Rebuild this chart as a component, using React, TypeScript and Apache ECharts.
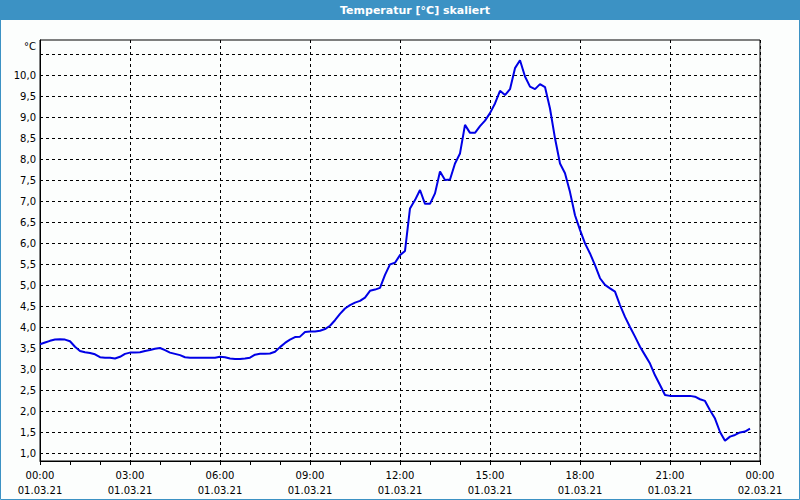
import React, { useEffect, useRef } from 'react';
import * as echarts from 'echarts';

const TITLE = 'Temperatur [°C] skaliert';
const UNIT = '°C';
const DATE_START = '01.03.21';
const DATE_END = '02.03.21';

// Sampling: one reading every 10 minutes from 00:00, 01.03.21
const SAMPLE_MINUTES = 10;

// Temperatures (°C), one row per hour, six 10-minute readings per row
const TEMP_00 = [3.60, 3.64, 3.68, 3.71, 3.72, 3.71];
const TEMP_01 = [3.67, 3.54, 3.44, 3.41, 3.39, 3.36];
const TEMP_02 = [3.29, 3.28, 3.28, 3.26, 3.30, 3.37];
const TEMP_03 = [3.40, 3.40, 3.41, 3.44, 3.46, 3.49];
const TEMP_04 = [3.51, 3.46, 3.40, 3.37, 3.34, 3.29];
const TEMP_05 = [3.28, 3.28, 3.28, 3.28, 3.28, 3.28];
const TEMP_06 = [3.30, 3.29, 3.26, 3.25, 3.25, 3.26];
const TEMP_07 = [3.28, 3.35, 3.37, 3.37, 3.38, 3.42];
const TEMP_08 = [3.53, 3.63, 3.71, 3.77, 3.78, 3.89];
const TEMP_09 = [3.90, 3.90, 3.92, 3.96, 4.04, 4.17];
const TEMP_10 = [4.32, 4.45, 4.53, 4.59, 4.63, 4.71];
const TEMP_11 = [4.87, 4.90, 4.94, 5.25, 5.50, 5.54];
const TEMP_12 = [5.72, 5.82, 6.83, 7.03, 7.27, 6.94];
const TEMP_13 = [6.94, 7.19, 7.71, 7.51, 7.52, 7.90];
const TEMP_14 = [8.14, 8.82, 8.63, 8.63, 8.79, 8.92];
const TEMP_15 = [9.10, 9.33, 9.63, 9.53, 9.67, 10.17];
const TEMP_16 = [10.36, 9.97, 9.73, 9.67, 9.79, 9.72];
const TEMP_17 = [9.21, 8.50, 7.90, 7.67, 7.22, 6.67];
const TEMP_18 = [6.32, 6.00, 5.76, 5.48, 5.17, 5.01];
const TEMP_19 = [4.93, 4.85, 4.53, 4.25, 4.01, 3.78];
const TEMP_20 = [3.54, 3.34, 3.14, 2.86, 2.63, 2.39];
const TEMP_21 = [2.37, 2.37, 2.37, 2.37, 2.37, 2.35];
const TEMP_22 = [2.29, 2.25, 2.03, 1.83, 1.51, 1.30];
const TEMP_23 = [1.40, 1.44, 1.50, 1.52, 1.59];

const TEMPERATURES = [
  ...TEMP_00, ...TEMP_01, ...TEMP_02, ...TEMP_03, ...TEMP_04, ...TEMP_05,
  ...TEMP_06, ...TEMP_07, ...TEMP_08, ...TEMP_09, ...TEMP_10, ...TEMP_11,
  ...TEMP_12, ...TEMP_13, ...TEMP_14, ...TEMP_15, ...TEMP_16, ...TEMP_17,
  ...TEMP_18, ...TEMP_19, ...TEMP_20, ...TEMP_21, ...TEMP_22, ...TEMP_23,
];

// Axis ticks
const X_MIN_HOURS = 0;
const X_MAX_HOURS = 24;
const X_LABEL_STEP_HOURS = 3;
const Y_MIN = 0.82;
const Y_MAX = 10.84;
const Y_GRID_VALUES = [1.0, 1.5, 2.0, 2.5, 3.0, 3.5, 4.0, 4.5, 5.0, 5.5, 6.0, 6.5, 7.0, 7.5, 8.0, 8.5, 9.0, 9.5, 10.0, 10.5];
const Y_LABEL_VALUES = [1.0, 1.5, 2.0, 2.5, 3.0, 3.5, 4.0, 4.5, 5.0, 5.5, 6.0, 6.5, 7.0, 7.5, 8.0, 8.5, 9.0, 9.5, 10.0];

const FONT = '"DejaVu Sans", Tahoma, sans-serif';

function pad(n: number) {
  return n < 10 ? '0' + n : '' + n;
}

function xLabel(v: number) {
  const h = Math.round(v);
  if (h >= 24) return '00:00\n' + DATE_END;
  return pad(h) + ':00\n' + DATE_START;
}

export default function App() {
  const ref = useRef<HTMLDivElement>(null);

  useEffect(() => {
    if (!ref.current) return;
    const chart = echarts.init(ref.current, undefined, { renderer: 'svg' });
    const seriesData = TEMPERATURES.map((t, i) => [(i * SAMPLE_MINUTES) / 60, t]);

    const option: any = {
      animation: false,
      backgroundColor: '#fcfefd',
      graphic: [
        {
          type: 'rect',
          shape: { x: 0, y: 0, width: 800, height: 20 },
          style: { fill: '#3c92c4' },
          z: 1,
        },
        {
          type: 'rect',
          shape: { x: 0.5, y: 0.5, width: 799, height: 499 },
          style: { fill: 'none', stroke: '#3c92c4', lineWidth: 1 },
          z: 1,
        },
        {
          type: 'text',
          x: 415,
          y: 10,
          style: {
            text: TITLE,
            fill: '#ffffff',
            font: 'bold 11px ' + FONT,
            align: 'center',
            verticalAlign: 'middle',
          },
          z: 2,
        },
        {
          type: 'text',
          x: 36,
          y: 46,
          style: {
            text: UNIT,
            fill: '#000000',
            font: '10px ' + FONT,
            align: 'right',
            verticalAlign: 'middle',
          },
          z: 2,
        },
      ],
      grid: {
        left: 40,
        right: 40,
        top: 40,
        bottom: 39,
        show: true,
        borderColor: '#000',
        borderWidth: 1,
        backgroundColor: 'transparent',
      },
      xAxis: {
        type: 'value',
        min: X_MIN_HOURS,
        max: X_MAX_HOURS,
        interval: X_LABEL_STEP_HOURS,
        axisLine: { show: true, lineStyle: { color: '#000', width: 1 } },
        axisTick: { show: true, length: 4, lineStyle: { color: '#000' } },
        minorTick: { show: true, splitNumber: 3, length: 4, lineStyle: { color: '#000' } },
        splitLine: { show: true, lineStyle: { color: '#000', type: [3, 3], width: 1 } },
        axisLabel: {
          formatter: xLabel,
          fontFamily: FONT,
          fontSize: 10,
          color: '#000',
          lineHeight: 15,
          margin: 7,
          showMinLabel: true,
          showMaxLabel: true,
        },
      },
      yAxis: {
        type: 'value',
        min: Y_MIN,
        max: Y_MAX,
        axisLine: { show: true, lineStyle: { color: '#000', width: 1 } },
        axisTick: { show: false, customValues: Y_GRID_VALUES },
        splitLine: { show: true, lineStyle: { color: '#000', type: [3, 3], width: 1 } },
        axisLabel: {
          customValues: Y_LABEL_VALUES,
          formatter: (v: number) => v.toFixed(1).replace('.', ','),
          fontFamily: FONT,
          fontSize: 10,
          color: '#000',
          margin: 4,
        },
      },
      series: [
        {
          type: 'line',
          data: seriesData,
          showSymbol: false,
          lineStyle: { color: '#0000e6', width: 2 },
          itemStyle: { color: '#0000e6' },
          clip: true,
        },
      ],
    };

    chart.setOption(option);
    return () => chart.dispose();
  }, []);

  return (
    <div
      ref={ref}
      style={{ position: 'fixed', left: 0, top: 0, width: 800, height: 500 }}
    />
  );
}
